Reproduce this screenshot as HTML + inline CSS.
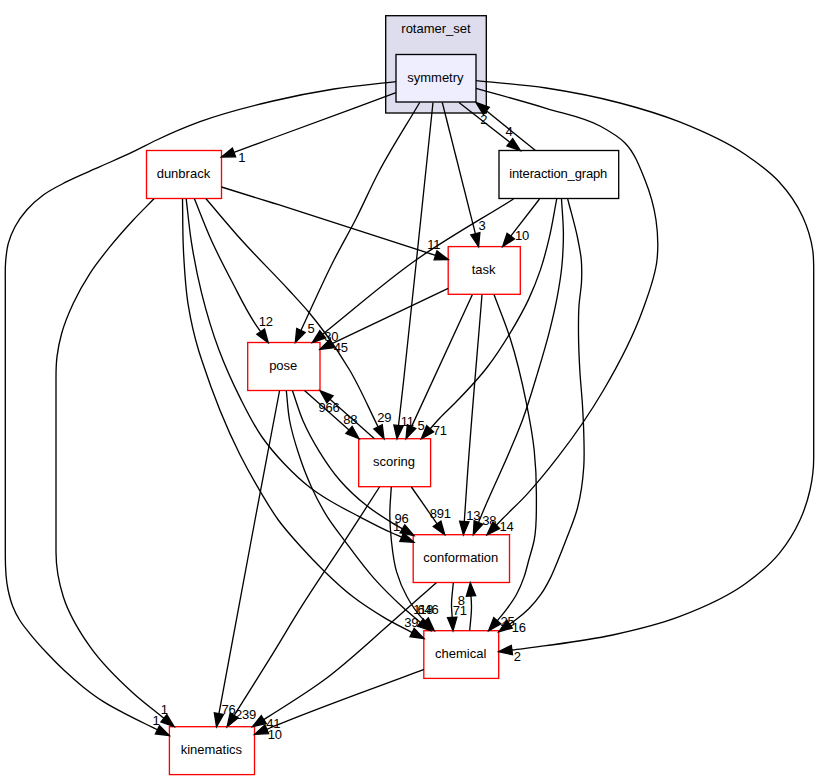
<!DOCTYPE html>
<html><head><meta charset="utf-8"><title>rotamer_set/symmetry</title>
<style>html,body{margin:0;padding:0;background:#fff;overflow:hidden}svg{display:block}text{font-family:"Liberation Sans",sans-serif;font-size:13px;fill:#000}text.l{letter-spacing:-0.23px}path{fill:none;stroke:#000;stroke-width:1.33}polygon.a{fill:#000;stroke:#000;stroke-width:1.33}</style></head><body>
<svg width="819" height="780" viewBox="0 0 819 780">
<rect width="819" height="780" fill="#fff"/>
<rect x="385.7" y="15.7" width="100.6" height="97.3" fill="#ddddee" stroke="#000" stroke-width="1.33"/>
<text x="436" y="33" text-anchor="middle">rotamer_set</text>
<rect x="396" y="54.5" width="80" height="47.5" fill="#eeeeff" stroke="black" stroke-width="1.33"/>
<text x="435.4" y="81.85" text-anchor="middle">symmetry</text>
<rect x="146.5" y="150.5" width="75" height="48" fill="white" stroke="red" stroke-width="1.33"/>
<text x="183.4" y="178.1" text-anchor="middle">dunbrack</text>
<rect x="499" y="150.5" width="119.7" height="48" fill="white" stroke="black" stroke-width="1.33"/>
<text x="558.25" y="178.1" text-anchor="middle" style="letter-spacing:-0.15px">interaction_graph</text>
<rect x="448.2" y="246.6" width="72.1" height="47.7" fill="white" stroke="red" stroke-width="1.33"/>
<text x="483.65" y="274.05" text-anchor="middle">task</text>
<rect x="247.7" y="342.5" width="72.3" height="48" fill="white" stroke="red" stroke-width="1.33"/>
<text x="283.25" y="370.1" text-anchor="middle">pose</text>
<rect x="358.7" y="438.7" width="71.9" height="48" fill="white" stroke="red" stroke-width="1.33"/>
<text x="394.05" y="466.3" text-anchor="middle">scoring</text>
<rect x="413.2" y="534.7" width="96.3" height="47.8" fill="white" stroke="red" stroke-width="1.33"/>
<text x="460.75" y="562.2" text-anchor="middle">conformation</text>
<rect x="423.8" y="630.7" width="74.9" height="47.7" fill="white" stroke="red" stroke-width="1.33"/>
<text x="460.65" y="658.15" text-anchor="middle">chemical</text>
<rect x="169.4" y="726.7" width="85.1" height="47.9" fill="white" stroke="red" stroke-width="1.33"/>
<text x="211.35" y="754.25" text-anchor="middle">kinematics</text>
<path d="M396,81.7 C375.33,84.13 354.56,85.77 334,89 C313.53,92.22 293.17,96.25 273,101 C248.38,106.8 223.74,112.97 200,121.7 C185.29,127.11 170.87,133.31 156.7,140 C148.81,143.72 141.16,147.93 133.3,151.7 C122.32,156.96 111.1,161.7 100,166.7 C88.9,171.7 77.51,176.11 66.7,181.7 C58.73,185.82 50.52,189.67 43.3,195 C37.3,199.43 31.61,204.38 26.7,210 C22.23,215.12 18.2,220.7 15,226.7 C12.19,231.97 9.87,237.54 8.3,243.3 C6.64,249.38 6.11,255.72 5.6,262 C5.06,268.65 5.3,275.33 5.3,282 C5.3,373 5.3,464 5.3,555 C5.3,566.7 5.63,578.56 8.1,590 C9.29,595.49 10.65,600.98 12.7,606.2 C14.58,610.99 16.91,615.61 19.6,620 C22.61,624.91 26.4,629.31 30,633.8 C35.13,640.19 40.61,646.3 46.2,652.3 C52.13,658.66 58.24,664.87 64.6,670.8 C70.58,676.38 76.71,681.81 83.1,686.9 C89.77,692.21 96.61,697.33 103.8,701.9 C111.22,706.61 119.11,710.53 126.9,714.6 C133.77,718.19 140.74,721.58 147.7,725 C150.95,726.6 154.2,728.17 157.45,729.76"/>
<polygon class="a" points="169.4,735.6 155.4,733.96 159.5,725.57"/>
<path d="M396,92.7 C355,107.8 313.99,122.88 273,138 C259.99,142.8 246.99,147.6 233.98,152.4"/>
<polygon class="a" points="221.5,157 232.36,148.02 235.59,156.78"/>
<path d="M419.7,102.5 C405.97,125.83 391.09,148.53 378.5,172.5 C370.53,187.66 363.79,203.45 356,218.7 C348.91,232.59 341.07,246.1 334,260 C322.24,283.12 311.97,306.97 300.95,330.46"/>
<polygon class="a" points="295.3,342.5 296.72,328.48 305.18,332.44"/>
<path d="M433,102.5 C427.5,155 422.06,207.51 416.5,260 C412.27,300 408.18,340.02 403.7,380 C402,395.17 400.24,410.32 398.51,425.49"/>
<polygon class="a" points="397,438.7 393.87,424.96 403.15,426.02"/>
<path d="M442.3,102.5 L475.35,233.7"/>
<polygon class="a" points="478.6,246.6 470.82,234.84 479.88,232.56"/>
<path d="M459,102.5 L509.83,142.3"/>
<polygon class="a" points="520.3,150.5 506.95,145.98 512.71,138.62"/>
<path d="M535.5,150.5 L486.35,110.85"/>
<polygon class="a" points="476,102.5 489.28,107.22 483.42,114.49"/>
<path d="M476,80.7 C499.33,83.13 522.8,84.49 546,88 C570.88,91.77 595.67,96.56 620,103 C639.94,108.28 659.82,114.11 679,121.7 C702.19,130.88 725.43,140.9 746,155 C757.67,163 769.43,171.28 779,181.7 C788.53,192.08 796.84,203.88 802.7,216.7 C807.52,227.24 811.02,238.53 812.7,250 C813.91,258.25 813.7,266.66 813.7,275 C813.7,336 813.7,397 813.7,458 C813.7,468.74 812.34,479.52 810,490 C807.71,500.29 804.36,510.4 800,520 C794.6,531.9 787.59,543.2 779.3,553.3 C769.82,564.85 758.05,574.47 746,583.3 C725.95,598 702.55,607.88 679.3,616.7 C657.77,624.86 635.2,630.13 612.7,635 C590.69,639.76 568.31,642.62 546,645.7 C534.65,647.27 523.26,648.58 511.89,650.03"/>
<polygon class="a" points="498.7,651.7 511.31,645.39 512.48,654.66"/>
<path d="M476,88.3 C499.33,94.97 522.82,101.13 546,108.3 C564.1,113.9 583.38,116.92 600,126 C608.84,130.83 617.95,135.8 625,143 C634.8,153.02 639.78,166.99 645,180 C650.14,192.84 654.01,206.32 656,220 C657.92,233.2 658.42,246.74 657,260 C655.15,277.24 648.53,293.68 642.7,310 C632.58,338.31 618.24,365.08 603,391 C589.56,413.85 574.4,435.72 558.2,456.7 C548.02,469.89 537.56,482.91 526.2,495.1 C518.97,502.86 511.13,510.03 503.7,517.6 C501.22,520.12 498.76,522.66 496.29,525.18"/>
<polygon class="a" points="487,534.7 492.95,521.92 499.63,528.45"/>
<path d="M154,198.8 C147.1,205.87 140.02,212.76 133.3,220 C125.27,228.66 117.43,237.51 110,246.7 C103.02,255.33 96.06,264.01 90,273.3 C83.75,282.89 78.14,292.93 73.3,303.3 C68.77,313.02 64.57,322.97 61.7,333.3 C59.57,340.97 57.94,348.8 57,356.7 C56.16,363.76 56,370.89 56,378 C56,436 56,494 56,552 C56,567.1 58.73,582.31 63.3,596.7 C69.02,614.71 79.14,631.24 90,646.7 C102.18,664.05 117.6,679.04 133.3,693.3 C143.05,702.15 153.7,709.96 163.9,718.29"/>
<polygon class="a" points="174.2,726.7 160.94,721.9 166.85,714.67"/>
<path d="M182.5,198.8 C182.83,216.37 182.57,233.95 183.5,251.5 C184.45,269.34 185.33,287.26 188.2,304.9 C190.67,320.12 194.03,335.24 198.5,350 C199.51,353.35 200.61,356.67 201.7,360 C212.3,392.36 224.6,424.33 240,454.7 C246.83,468.17 254.21,481.36 262,494.3 C267.23,502.99 272.34,511.79 278.3,520 C285.22,529.53 293.21,538.25 301.1,547 C308.49,555.19 316.09,563.21 324,570.9 C333.3,579.93 342.74,588.88 353,596.8 C362.9,604.44 373.46,611.21 384.2,617.6 C393.27,622.99 402.79,627.59 412.09,632.59"/>
<polygon class="a" points="424,638.5 410.01,636.77 414.16,628.41"/>
<path d="M186.2,198.8 C187.9,212.97 189.11,227.2 191.3,241.3 C193.97,258.53 197.31,275.68 201.5,292.6 C206.31,312.02 211.95,331.28 219,350 C225.11,366.23 232.21,382.1 240,397.6 C246.75,411.04 253.34,424.7 262,437 C268.61,446.39 276.1,455.17 284,463.5 C292.2,472.15 300.81,480.5 310.3,487.7 C316.58,492.47 323.27,496.69 330,500.8 C339.47,506.59 349.46,511.47 359.3,516.6 C369.78,522.06 380.2,527.69 391,532.5 C394.53,534.08 398.12,535.54 401.67,537.07"/>
<polygon class="a" points="413.9,542.3 399.84,541.36 403.51,532.77"/>
<path d="M194.4,198.8 C200.2,212.97 205.47,227.36 211.8,241.3 C218.12,255.21 225.2,268.77 232.3,282.3 C239.55,296.12 246.3,310.28 254.9,323.3 C256.78,326.14 258.75,328.92 260.68,331.73"/>
<polygon class="a" points="268.2,342.7 256.83,334.37 264.53,329.09"/>
<path d="M206,198.8 C218.2,212.97 230.09,227.4 242.6,241.3 C257.57,257.93 273.7,273.49 288.8,290 C295.46,297.28 302.27,304.44 308.6,312 C314.18,318.66 319.54,325.51 324.7,332.5 C333.62,344.57 341.94,357.1 349.6,370 C360.41,388.21 368.56,407.87 378.05,426.81"/>
<polygon class="a" points="384,438.7 373.87,428.9 382.22,424.72"/>
<path d="M221.5,187 C238.67,192.33 255.85,197.62 273,203 C327.32,220.03 381.36,237.95 435.54,255.42"/>
<polygon class="a" points="448.2,259.5 434.11,259.86 436.98,250.97"/>
<path d="M513.5,199 C481,219.33 447.32,237.9 416,260 C383.53,282.91 353.81,309.48 322.71,334.22"/>
<polygon class="a" points="312.3,342.5 319.8,330.57 325.62,337.87"/>
<path d="M539.5,199 L510.75,236.09"/>
<polygon class="a" points="502.6,246.6 507.06,233.23 514.44,238.95"/>
<path d="M556.7,199 C554.27,211.73 552.37,224.58 549.4,237.2 C546.83,248.1 544.09,258.99 540.5,269.6 C537.11,279.63 533.16,289.5 528.7,299.1 C523.5,310.29 517.34,321.02 511,331.6 C503.71,343.76 496.05,355.76 487.4,367 C477.56,379.8 466.28,391.45 455,403 C449.96,408.16 444.54,412.94 439.6,418.2 C436.37,421.65 433.3,425.25 430.16,428.78"/>
<polygon class="a" points="421.3,438.7 426.67,425.67 433.64,431.89"/>
<path d="M561.5,199 C562.13,210.73 563.4,222.45 563.4,234.2 C563.4,245.05 562.89,255.91 561.8,266.7 C560.7,277.57 558.84,288.37 556.8,299.1 C554.72,310.01 552.12,320.83 549.4,331.6 C545.89,345.48 541.74,359.19 537.6,372.9 C532.84,388.68 528.27,404.55 522.5,420 C518.68,430.22 514.33,440.24 510.1,450.3 C501.94,469.69 492.72,488.63 484.5,508 C482.46,512.8 480.46,517.62 478.44,522.44"/>
<polygon class="a" points="473.3,534.7 474.14,520.63 482.75,524.24"/>
<path d="M567.7,199 C571.13,212.67 575.33,226.16 578,240 C579.28,246.63 580.7,253.27 581.3,260 C581.89,266.64 581.82,273.34 581.6,280 C581.3,289.04 579.42,297.97 578.9,307 C578.39,315.99 578.44,325 578.5,334 C578.58,346.01 579.13,358.01 579.8,370 C580.47,381.92 581.8,393.79 582.5,405.7 C583.06,415.19 583.57,424.69 583.8,434.2 C584.06,444.9 584.49,455.62 583.8,466.3 C582.89,480.33 581.09,494.41 577.5,508 C574.61,518.96 570.04,529.41 566,540 C563.45,546.7 560.83,553.37 558.1,560 C555.74,565.73 553.55,571.55 550.8,577.1 C547.88,582.99 544.76,588.81 541,594.2 C537.37,599.4 533.28,604.32 528.8,608.8 C524.32,613.28 519.33,617.27 514.2,621 C512.69,622.1 511.14,623.13 509.61,624.2"/>
<polygon class="a" points="498.7,631.8 506.94,620.36 512.28,628.03"/>
<path d="M448.2,288.3 L332.01,343.59"/>
<polygon class="a" points="320,349.3 330,339.37 334.02,347.8"/>
<path d="M472.3,294.7 L411.56,426.62"/>
<polygon class="a" points="406,438.7 407.32,424.67 415.8,428.57"/>
<path d="M482,294.7 C477.03,356.47 471.43,418.19 467.1,480 C466.13,493.81 465.23,507.62 464.3,521.43"/>
<polygon class="a" points="463.4,534.7 459.64,521.12 468.96,521.75"/>
<path d="M494.1,294.8 C499.43,309.2 505.42,323.38 510.1,338 C516.83,359.01 521.84,380.57 526.2,402.2 C529.42,418.13 532.5,434.14 534.2,450.3 C535.88,466.23 536.51,482.28 536.4,498.3 C536.3,512.22 536.88,526.34 534.2,540 C532.87,546.78 530.64,553.34 528.8,560 C527.23,565.71 525.97,571.52 524,577.1 C521.93,582.96 519.58,588.75 516.6,594.2 C513.8,599.33 510.36,604.09 506.9,608.8 C503.87,612.91 500.51,616.77 497.31,620.75"/>
<polygon class="a" points="488.6,630.8 493.79,617.69 500.84,623.81"/>
<path d="M279.6,390.5 C271.4,433.67 263.14,476.82 255,520 C242.84,584.52 230.96,649.08 218.94,713.62"/>
<polygon class="a" points="216.5,726.7 214.34,712.77 223.53,714.48"/>
<path d="M286.3,390.5 C287.43,400.67 287.81,410.95 289.7,421 C291.66,431.45 294.76,441.67 298,451.8 C301.79,463.66 306.11,475.38 311.3,486.7 C316.13,497.25 321.48,507.61 327.7,517.4 C332.87,525.54 338.93,533.07 344.7,540.8 C354.13,553.44 363.31,566.32 373.8,578.1 C382.91,588.33 392.7,597.95 402.8,607.2 C408.54,612.45 414.55,617.4 420.43,622.5"/>
<polygon class="a" points="430.9,630.7 417.55,626.18 423.3,618.83"/>
<path d="M292.4,390.5 C295.97,400.67 298.8,411.12 303.1,421 C307.74,431.67 313.38,441.91 319.5,451.8 C325.69,461.8 332.29,471.63 340,480.5 C348,489.7 357.02,498.06 366.6,505.6 C374.32,511.67 382.64,516.95 391,522.1 C394.77,524.42 398.63,526.6 402.44,528.85"/>
<polygon class="a" points="413.9,535.6 400.07,532.87 404.81,524.82"/>
<path d="M304.5,390.5 L349.04,429.89"/>
<polygon class="a" points="359,438.7 345.94,433.39 352.13,426.39"/>
<path d="M374.5,438.7 L329.96,399.31"/>
<polygon class="a" points="320,390.5 333.06,395.81 326.87,402.81"/>
<path d="M379.5,487 C367.9,504.93 356.35,522.9 344.7,540.8 C330.25,562.99 315.19,584.78 301.1,607.2 C291.53,622.44 282.44,637.98 273,653.3 C260.19,674.09 247.1,694.72 234.15,715.42"/>
<polygon class="a" points="227.1,726.7 230.19,712.95 238.11,717.9"/>
<path d="M391.3,487 C390.8,496.33 389.74,505.65 389.8,515 C389.86,523.62 390.47,532.23 391.4,540.8 C392.54,551.25 393.6,561.83 396.6,571.9 C399.17,580.52 402.64,588.93 407,596.8 C411.09,604.19 415.76,611.4 421.5,617.6 C422.64,618.83 423.84,619.99 425.01,621.19"/>
<polygon class="a" points="434.3,630.7 421.66,624.45 428.35,617.92"/>
<path d="M411.4,487 L437.09,523.79"/>
<polygon class="a" points="444.7,534.7 433.26,526.47 440.92,521.12"/>
<path d="M436.3,582.7 C420.77,596.47 405.35,610.36 389.7,624 C367.69,643.19 346.55,663.53 323,680.8 C306.9,692.61 289.87,703.11 273,713.8 C269.93,715.75 266.84,717.68 263.76,719.62"/>
<polygon class="a" points="252.5,726.7 261.27,715.66 266.24,723.57"/>
<path d="M453.3,582.7 C452.7,590.47 451.38,598.21 451.5,606 C451.56,609.81 451.96,613.62 452.19,617.42"/>
<polygon class="a" points="453,630.7 447.53,617.71 456.86,617.14"/>
<path d="M469.7,630.7 C470.3,622.47 471.63,614.25 471.5,606 C471.45,602.66 471.16,599.32 470.98,595.98"/>
<polygon class="a" points="470.3,582.7 475.65,595.74 466.32,596.22"/>
<path d="M424,669.3 C373.67,688.43 322.74,706.07 273,726.7 C270.93,727.56 268.85,728.43 266.78,729.29"/>
<polygon class="a" points="254.5,734.4 264.98,724.98 268.57,733.6"/>
<text class="l" x="241.7" y="161.7" text-anchor="middle">1</text>
<text class="l" x="164.2" y="713.5" text-anchor="middle">1</text>
<text class="l" x="156" y="725" text-anchor="middle">1</text>
<text class="l" x="228.6" y="713.5" text-anchor="middle">76</text>
<text class="l" x="245.6" y="719.4" text-anchor="middle">239</text>
<text class="l" x="273.2" y="728.1" text-anchor="middle">41</text>
<text class="l" x="274.8" y="739" text-anchor="middle">10</text>
<text class="l" x="483.7" y="123.7" text-anchor="middle">2</text>
<text class="l" x="509" y="136" text-anchor="middle">4</text>
<text class="l" x="482" y="230" text-anchor="middle">3</text>
<text class="l" x="522" y="240" text-anchor="middle">10</text>
<text class="l" x="433.7" y="249.3" text-anchor="middle">11</text>
<text class="l" x="265.7" y="325.7" text-anchor="middle">12</text>
<text class="l" x="311" y="333" text-anchor="middle">5</text>
<text class="l" x="331.3" y="340.7" text-anchor="middle">30</text>
<text class="l" x="340.7" y="351.7" text-anchor="middle">45</text>
<text class="l" x="329" y="412.1" text-anchor="middle">966</text>
<text class="l" x="350.3" y="424.1" text-anchor="middle">88</text>
<text class="l" x="384.3" y="421.7" text-anchor="middle">29</text>
<text class="l" x="407.2" y="425.5" text-anchor="middle">11</text>
<text class="l" x="421" y="429.6" text-anchor="middle">5</text>
<text class="l" x="439.7" y="435" text-anchor="middle">71</text>
<text class="l" x="401.5" y="523.2" text-anchor="middle">96</text>
<text class="l" x="396.6" y="531.3" text-anchor="middle">1</text>
<text class="l" x="440.2" y="517.6" text-anchor="middle">891</text>
<text class="l" x="473.2" y="519.7" text-anchor="middle">13</text>
<text class="l" x="489.3" y="524.5" text-anchor="middle">38</text>
<text class="l" x="506.4" y="531.1" text-anchor="middle">14</text>
<text class="l" x="461.3" y="605" text-anchor="middle">8</text>
<text class="l" x="459.7" y="614.7" text-anchor="middle">71</text>
<text class="l" x="507.5" y="626" text-anchor="middle">25</text>
<text class="l" x="518.7" y="632.3" text-anchor="middle">16</text>
<text class="l" x="517.3" y="660.7" text-anchor="middle">2</text>
<text class="l" x="411.3" y="626.7" text-anchor="middle">39</text>
<text class="l" x="423.2" y="614.2" text-anchor="middle">118</text>
<text class="l" x="427.9" y="613.7" text-anchor="middle">646</text>
</svg></body></html>
